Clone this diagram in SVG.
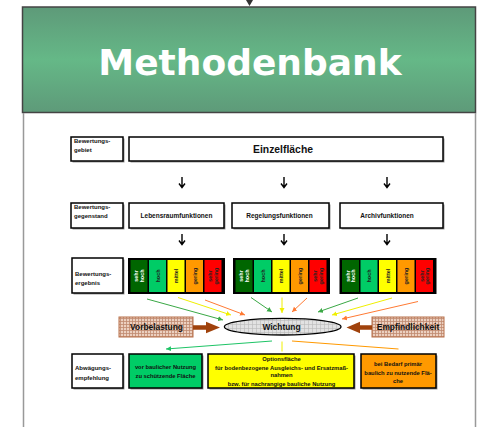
<svg xmlns="http://www.w3.org/2000/svg" width="480" height="427" viewBox="0 0 480 427">
<defs>
<linearGradient id="hg" x1="0" y1="0" x2="0" y2="1">
<stop offset="0" stop-color="#5e9a79"/>
<stop offset="0.5" stop-color="#65b887"/>
<stop offset="1" stop-color="#5e9a79"/>
</linearGradient>
<pattern id="bp" width="3" height="3" patternUnits="userSpaceOnUse">
<rect width="3" height="3" fill="#ecd0c0"/>
<path d="M0 0.5H3M0.5 0V3" stroke="#c08a70" stroke-width="0.8"/>
</pattern>
<pattern id="gp" width="4" height="4" patternUnits="userSpaceOnUse">
<rect width="4" height="4" fill="#e2e2e2"/>
<path d="M0 0.5H4M0.5 0V4" stroke="#b8b8b8" stroke-width="0.6"/>
</pattern>
<marker id="mg" markerWidth="6" markerHeight="6" refX="5" refY="3" orient="auto" markerUnits="userSpaceOnUse"><path d="M0 0.5L5 3L0 5.5Z" fill="#3aa845"/></marker>
<marker id="my" markerWidth="6" markerHeight="6" refX="5" refY="3" orient="auto" markerUnits="userSpaceOnUse"><path d="M0 0.5L5 3L0 5.5Z" fill="#f0f000"/></marker>
<marker id="mo" markerWidth="6" markerHeight="6" refX="5" refY="3" orient="auto" markerUnits="userSpaceOnUse"><path d="M0 0.5L5 3L0 5.5Z" fill="#ff7a33"/></marker>
<marker id="mgb" markerWidth="6" markerHeight="6" refX="5" refY="3" orient="auto" markerUnits="userSpaceOnUse"><path d="M0 0.5L5 3L0 5.5Z" fill="#1ec466"/></marker>
<g id="scale">
<rect x="0" y="0" width="97" height="36" fill="#000"/>
<rect x="2.5" y="2" width="17" height="32" fill="#006600"/>
<rect x="21" y="2" width="17" height="32" fill="#00cc66"/>
<rect x="39.5" y="2" width="17" height="32" fill="#ffff00"/>
<rect x="58" y="2" width="17" height="32" fill="#ff9900"/>
<rect x="76.5" y="2" width="17" height="32" fill="#ff0000"/>
<text class="c" style="fill:#fff" transform="translate(11,18) rotate(-90)"><tspan x="0" y="-0.8">sehr</tspan><tspan x="0" y="4.8">hoch</tspan></text>
<text class="c" transform="translate(29.5,18) rotate(-90)" y="2">hoch</text>
<text class="c" transform="translate(48,18) rotate(-90)" y="2">mittel</text>
<text class="c" transform="translate(66.5,18) rotate(-90)" y="2">gering</text>
<text class="c" transform="translate(85,18) rotate(-90)"><tspan x="0" y="-0.8">sehr</tspan><tspan x="0" y="4.8">gering</tspan></text>
</g>
</defs>
<style>
text{font-family:"Liberation Sans",Arial,sans-serif;font-weight:bold;fill:#111}
.box{fill:#fff;stroke:#000;stroke-width:1.5}
.sh{fill:#9a9a9a}
.lab{font-size:6px}
.fn{font-size:6.5px;text-anchor:middle}
.c{font-size:5.5px;text-anchor:middle;fill:#222}
.rec{font-size:5.8px;text-anchor:middle}
.big{font-size:8.4px;text-anchor:middle}
.arr{stroke:#000;stroke-width:1.4;fill:none}
.ln{stroke-width:1;fill:none}
</style>
<rect width="480" height="427" fill="#fff"/>

<!-- top pointer -->
<path d="M249.5 0V2" stroke="#333" stroke-width="1"/>
<path d="M246 0H253L249.5 6Z" fill="#333"/>

<g id="header">
<rect x="22.5" y="7" width="453" height="105.5" fill="url(#hg)" stroke="#444" stroke-width="1.5"/>
<text x="250" y="75" text-anchor="middle" style="font-family:'DejaVu Sans',sans-serif;font-size:36px;fill:#fff">Methodenbank</text>
</g>

<g id="panel">
<path d="M23.5 113V427M475.5 113V427" stroke="#999" stroke-width="1.5"/>
</g>

<!-- row 1 -->
<g id="label-gebiet">
<rect class="sh" x="72.5" y="138.5" width="52" height="24"/>
<rect class="box" x="71" y="137" width="52" height="24"/>
<text class="lab" x="74" y="143">Bewertungs-</text>
<text class="lab" x="74" y="152">gebiet</text>
</g>
<g id="einzelflaeche">
<rect class="sh" x="130.5" y="138.5" width="314" height="24"/>
<rect class="box" x="129" y="137" width="314" height="24"/>
<text x="283" y="152.5" text-anchor="middle" style="font-size:10.4px">Einzelfläche</text>
</g>

<!-- row 2 -->
<g id="label-gegenstand">
<rect class="sh" x="72.5" y="204.5" width="52" height="25"/>
<rect class="box" x="71" y="203" width="52" height="25"/>
<text class="lab" x="74" y="208.5">Bewertungs-</text>
<text class="lab" x="74" y="217.5">gegenstand</text>
</g>
<g id="lebensraum">
<rect class="sh" x="130.5" y="204.5" width="95" height="25"/>
<rect class="box" x="129" y="203" width="95" height="25"/>
<text class="fn" x="176.5" y="217.5">Lebensraumfunktionen</text>
</g>
<g id="regelung">
<rect class="sh" x="233.5" y="204.5" width="97" height="25"/>
<rect class="box" x="232" y="203" width="97" height="25"/>
<text class="fn" x="279.5" y="217.5">Regelungsfunktionen</text>
</g>
<g id="archiv">
<rect class="sh" x="341.5" y="204.5" width="103" height="25"/>
<rect class="box" x="340" y="203" width="103" height="25"/>
<text class="fn" x="387" y="217.5">Archivfunktionen</text>
</g>

<!-- row 3 -->
<g id="label-ergebnis">
<rect class="sh" x="73.5" y="259.5" width="51" height="35"/>
<rect class="box" x="72" y="258" width="51" height="35"/>
<text class="lab" x="75" y="275.5">Bewertungs-</text>
<text class="lab" x="75" y="285">ergebnis</text>
</g>
<g id="scale-lebensraum"><use href="#scale" transform="translate(128,258)"/></g>
<g id="scale-regelung"><use href="#scale" transform="translate(233,258)"/></g>
<g id="scale-archiv"><use href="#scale" transform="translate(339.5,258)"/></g>

<!-- influence boxes -->
<g id="vorbelastung">
<rect x="119" y="317" width="74" height="20" fill="url(#bp)" stroke="#b8704a" stroke-width="1"/>
<text class="big" x="156.5" y="330">Vorbelastung</text>
</g>
<g id="empfindlichkeit">
<rect x="372" y="317" width="72" height="20" fill="url(#bp)" stroke="#b8704a" stroke-width="1"/>
<text class="big" x="408" y="330">Empfindlichkeit</text>
</g>
<g id="wichtung">
<ellipse cx="282.7" cy="326.7" rx="58.3" ry="8.3" fill="url(#gp)" stroke="#000" stroke-width="1.3"/>
<text class="big" x="281.5" y="329.8">Wichtung</text>
</g>

<!-- row 4 -->
<g id="label-abwaegung">
<rect class="sh" x="73.5" y="355.5" width="51" height="34"/>
<rect class="box" x="72" y="354" width="51" height="34"/>
<text class="lab" x="75" y="370">Abwägungs-</text>
<text class="lab" x="75" y="379.5">empfehlung</text>
</g>
<g id="schutz">
<rect class="sh" x="130.5" y="355.5" width="73" height="34"/>
<rect class="box" x="129" y="354" width="73" height="34" style="fill:#00cc66"/>
<text class="rec" x="165.5" y="369">vor baulicher Nutzung</text>
<text class="rec" x="165.5" y="378">zu schützende Fläche</text>
</g>
<g id="option">
<rect class="sh" x="209.5" y="355.5" width="146" height="34"/>
<rect class="box" x="208" y="354" width="146" height="34" style="fill:#ffff00"/>
<text class="rec" x="281.5" y="360.5">Optionsfläche</text>
<text class="rec" x="281.5" y="369.5">für bodenbezogene Ausgleichs- und Ersatzmaß-</text>
<text class="rec" x="281.5" y="377">nahmen</text>
<text class="rec" x="281.5" y="385.5">bzw. für nachrangige bauliche Nutzung</text>
</g>
<g id="bebauung">
<rect class="sh" x="362.5" y="355.5" width="75" height="34"/>
<rect class="box" x="361" y="354" width="75" height="34" style="fill:#ff9900"/>
<text class="rec" x="398" y="365.5">bei Bedarf primär</text>
<text class="rec" x="398" y="374.5">baulich zu nutzende Flä-</text>
<text class="rec" x="398" y="383">che</text>
</g>

<g id="connectors">
<!-- down arrows -->
<path class="arr" d="M182 177V187M179 183.5L182 187.5L185 183.5"/>
<path class="arr" d="M284 177V187M281 183.5L284 187.5L287 183.5"/>
<path class="arr" d="M387 177V187M384 183.5L387 187.5L390 183.5"/>
<path class="arr" d="M182 234V244M179 240.5L182 244.5L185 240.5"/>
<path class="arr" d="M284 234V244M281 240.5L284 244.5L287 240.5"/>
<path class="arr" d="M387 234V244M384 240.5L387 244.5L390 240.5"/>
<!-- bars to Wichtung -->
<path class="ln" stroke="#3aa845" marker-end="url(#mg)" d="M147 299L223 320"/>
<path class="ln" stroke="#f0f000" marker-end="url(#my)" d="M178 297.5L231 315"/>
<path class="ln" stroke="#ff7a33" marker-end="url(#mo)" d="M205 300L245 315"/>
<path class="ln" stroke="#3aa845" marker-end="url(#mg)" d="M251 297.5L272 312"/>
<path class="ln" stroke="#f0f000" marker-end="url(#my)" d="M282 297.5V313"/>
<path class="ln" stroke="#ff7a33" marker-end="url(#mo)" d="M307 298L292 312"/>
<path class="ln" stroke="#3aa845" marker-end="url(#mg)" d="M358 298L318 312"/>
<path class="ln" stroke="#f0f000" marker-end="url(#my)" d="M392 298L332 315"/>
<path class="ln" stroke="#ff7a33" marker-end="url(#mo)" d="M418 301.5L342 319"/>
<!-- influence arrows -->
<path d="M193 325.2H206V321.7L220 327.5L206 333.3V329.8H193Z" fill="#a0420c"/>
<path d="M372 325.2H360V321.7L346.5 327.5L360 333.3V329.8H372Z" fill="#a0420c"/>
<!-- Wichtung to recommendations -->
<path class="ln" stroke="#1ec466" stroke-width="1.5" marker-end="url(#mgb)" d="M272 341L166 349"/>
<path class="ln" stroke="#f0f000" stroke-width="1.5" d="M282 341.5V351.5"/>
<path class="ln" stroke="#ff9900" stroke-width="1.5" d="M292 341L398.5 349"/>
</g>
</svg>
